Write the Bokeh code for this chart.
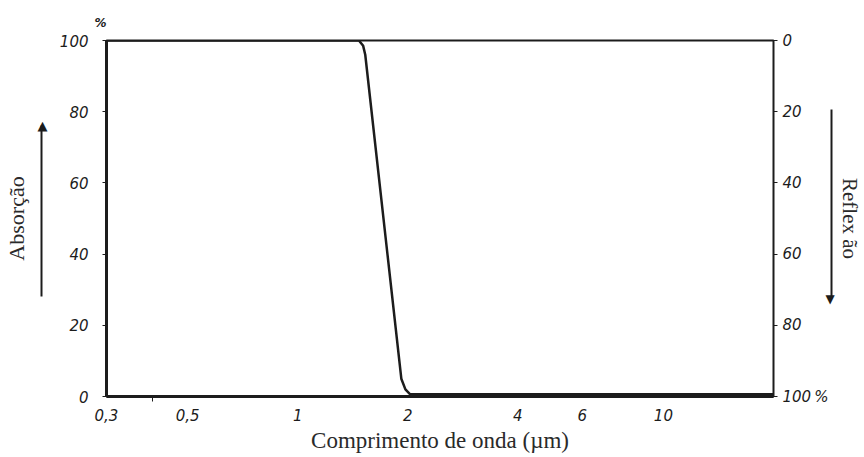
from bokeh.embed import file_html
from bokeh.models import FixedTicker, LinearAxis, Range1d, Title
from bokeh.plotting import figure
from bokeh.resources import INLINE

# Absorption spectrum (wavelength in micrometres, absorption in %)
wavelength = [0.3, 1.47, 1.51, 1.53, 1.92, 1.97, 2.03, 20.0]
absorption = [100, 100, 98.5, 96, 5, 2, 0.6, 0.6]

x_ticks = [0.3, 0.5, 1, 2, 4, 6, 10]
x_tick_labels = ["0,3", "0,5", "1", "2", "4", "6", "10"]
x_minor_ticks = [0.4]
y_ticks = [0, 20, 40, 60, 80, 100]
refl_tick_labels = {100: "100\u2009%"}

INK = "#1c1c1c"
TEXT_INK = "#2a2a2a"
TICK_FONT = "DejaVu Sans"
TEXT_FONT = "Liberation Serif"

# direction arrows beside the two percentage scales (in axis units)
ABS_ARROW = (28.0, 76.0)      # absorption grows upwards
REFL_ARROW = (19.5, 72.5)     # reflection grows downwards

p = figure(
    width=864, height=457,
    x_axis_type="log",
    x_range=Range1d(0.3, 20.0), y_range=Range1d(0, 100),
    output_backend="svg", toolbar_location=None,
    min_border_left=106, min_border_right=89,
    min_border_top=40, min_border_bottom=61,
    background_fill_color="white", border_fill_color="white",
)
p.grid.visible = False
p.outline_line_color = INK
p.outline_line_width = 2
p.extra_y_ranges = {"refl": Range1d(100, 0)}


def style_ticks(ax, size="15px"):
    ax.major_label_text_font = TICK_FONT
    ax.major_label_text_font_style = "italic"
    ax.major_label_text_font_size = size
    ax.major_label_text_color = INK


def style_title(ax, size="22px"):
    ax.axis_label_text_font = TEXT_FONT
    ax.axis_label_text_font_style = "normal"
    ax.axis_label_text_font_size = size
    ax.axis_label_text_color = TEXT_INK


# wavelength axis
xa = p.xaxis[0]
xa.ticker = FixedTicker(ticks=x_ticks, minor_ticks=x_minor_ticks)
xa.major_label_overrides = {t: s for t, s in zip(x_ticks, x_tick_labels)}
xa.axis_line_width = 3
xa.axis_line_color = INK
xa.major_tick_line_color = None
xa.minor_tick_out = 5
xa.minor_tick_in = 0
xa.minor_tick_line_color = INK
xa.major_label_standoff = 6
xa.axis_label = "Comprimento de onda (µm)"
xa.axis_label_standoff = 4
style_ticks(xa)
style_title(xa, "23px")

# absorption scale (left)
ya = p.yaxis[0]
ya.ticker = FixedTicker(ticks=y_ticks, minor_ticks=[])
ya.axis_line_width = 3
ya.axis_line_color = INK
ya.major_tick_out = 4
ya.major_tick_in = 0
ya.major_tick_line_color = INK
ya.major_label_standoff = 14
style_ticks(ya)

# gap between the absorption numbers and its arrow
gap = LinearAxis(ticker=FixedTicker(ticks=[]), axis_line_color=None,
                 axis_label=" ", axis_label_standoff=0,
                 axis_label_text_font_size="11px")
p.add_layout(gap, "left")

# absorption arrow: shaft is the axis line, head is the tick label
abs_arrow = LinearAxis(bounds=ABS_ARROW,
                       ticker=FixedTicker(ticks=[ABS_ARROW[1]], minor_ticks=[]),
                       axis_line_color=INK, axis_line_width=2,
                       major_tick_line_color=None, major_tick_out=0, major_tick_in=0,
                       major_label_overrides={ABS_ARROW[1]: "▲"},
                       major_label_standoff=-6,
                       major_label_text_font="DejaVu Sans",
                       major_label_text_font_size="13px",
                       major_label_text_color=INK,
                       axis_label="Absorção", axis_label_standoff=6)
style_title(abs_arrow)
p.add_layout(abs_arrow, "left")

# reflection scale (right, reversed)
ra = LinearAxis(y_range_name="refl",
                ticker=FixedTicker(ticks=y_ticks, minor_ticks=[]))
ra.major_label_overrides = refl_tick_labels
ra.axis_line_color = None
ra.major_tick_out = 4
ra.major_tick_in = 0
ra.major_tick_line_color = INK
ra.major_label_standoff = 5
style_ticks(ra)
p.add_layout(ra, "right")

refl_arrow = LinearAxis(y_range_name="refl", bounds=REFL_ARROW,
                        ticker=FixedTicker(ticks=[REFL_ARROW[1]], minor_ticks=[]),
                        axis_line_color=INK, axis_line_width=2,
                        major_tick_line_color=None, major_tick_out=0, major_tick_in=0,
                        major_label_overrides={REFL_ARROW[1]: "▼"},
                        major_label_standoff=-6,
                        major_label_text_font="DejaVu Sans",
                        major_label_text_font_size="12px",
                        major_label_text_color=INK,
                        axis_label="Reflex ão", axis_label_standoff=0)
style_title(refl_arrow, "21px")
p.add_layout(refl_arrow, "right")

# unit mark above the absorption scale
p.add_layout(Title(text="%", align="left", offset=-12, standoff=22,
                   text_font=TICK_FONT, text_font_style="bold italic",
                   text_font_size="12px", text_color=INK), "above")

p.line(wavelength, absorption, line_color=INK, line_width=2.5)

open("out.html", "w").write(file_html(p, INLINE))
